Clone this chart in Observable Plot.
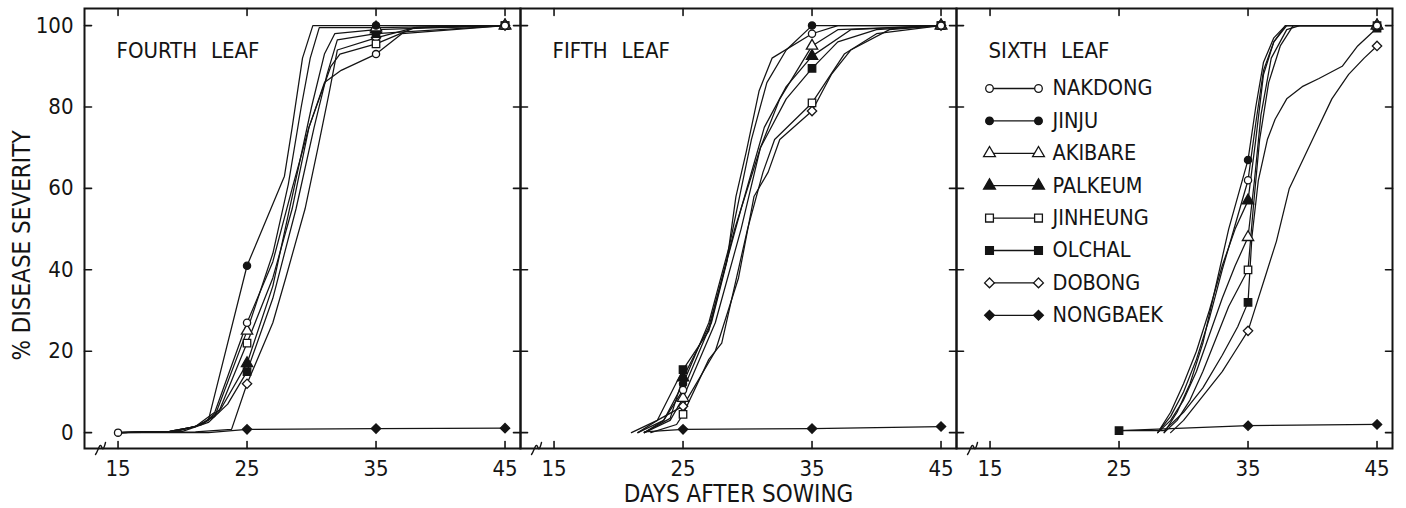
<!DOCTYPE html>
<html>
<head>
<meta charset="utf-8">
<script src="https://cdn.jsdelivr.net/npm/d3@7"></script>
<script src="https://cdn.jsdelivr.net/npm/@observablehq/plot@0.6"></script>
<style>
  html, body { margin: 0; padding: 0; background: #fff; }
  #chart { width: 1406px; height: 508px; }
</style>
</head>
<body>
<div id="chart"></div>
<script>
// ---------- data ----------
const panels = ["FOURTH LEAF", "FIFTH LEAF", "SIXTH LEAF"];
const cultivars = ["NAKDONG", "JINJU", "AKIBARE", "PALKEUM", "JINHEUNG", "OLCHAL", "DOBONG", "NONGBAEK"];
const markerSymbols = ["circle", "circle", "triangle", "triangle", "square", "square", "diamond2", "diamond2"];
const markerFilled = [false, true, false, true, false, true, false, true];
const obsDays = [15, 25, 35, 45];
const xTicks = [15, 25, 35, 45];
const yTicks = [0, 20, 40, 60, 80, 100];

// marked observations (% severity) at days 15, 25, 35, 45; null = no marker
const fourthLeafObs = [
  [0, 27, 93, 100],
  [null, 41, 100, 100],
  [null, 25, 99.5, 100],
  [null, 17, 99, 100],
  [null, 22, 95.5, 100],
  [null, 15, 98, 100],
  [null, 12, 97, 100],
  [null, 0.8, 1.0, 1.1]
];
const fifthLeafObs = [
  [null, 10.5, 98, 100],
  [null, 12, 100, 100],
  [null, 8.5, 95, 100],
  [null, 13.5, 92.5, 100],
  [null, 4.5, 81, 100],
  [null, 15.5, 89.5, 100],
  [null, 6.5, 79, 100],
  [null, 0.8, 1.0, 1.5]
];
const sixthLeafObs = [
  [null, null, 62, 100],
  [null, null, 67, 100],
  [null, null, 48, 100],
  [null, null, 57, 100],
  [null, null, 40, 100],
  [null, 0.5, 32, 99.4],
  [null, null, 25, 95],
  [null, null, 1.7, 2.0]
];

// hand-drawn progress curves: [day, % severity]
const fourthLeafCurves = [
  [[15,0],[19,0.3],[21,1.5],[22.5,5],[25,27],[27,42],[28.5,60],[29.8,75],[31,86],[32.3,89],[35,93],[37,98],[45,100]],
  [[15,0],[19,0.3],[21,1.5],[22,3],[25,41],[27.9,63],[28.5,75],[29.3,92],[30.1,100],[35,100],[45,100]],
  [[15,0],[19,0.3],[21,1.5],[22.5,4],[25,25],[27,44],[28.2,61],[29.2,80],[29.9,92],[30.6,99.5],[35,99.5],[45,100]],
  [[15,0],[19.5,0.3],[21.5,2],[23,6],[25,17],[27,36],[28.5,58],[30,80],[31,93],[31.8,98],[35,99],[45,100]],
  [[15,0],[19.5,0.3],[21.5,2],[22.8,5],[25,22],[27,38],[28.5,55],[29.8,75],[31.5,90],[32.2,93],[35,95.5],[38,99.5],[45,100]],
  [[15,0],[20,0.3],[22,2.5],[23.5,7],[25,15],[27,33],[28.8,55],[30.2,75],[31.2,88],[32,96.5],[35,98],[45,100]],
  [[15,0],[21,0.2],[23.8,0.8],[25,12],[27,27],[28,38],[29.5,55],[30.5,70],[31.4,84],[32,94],[35,97],[38,99.5],[45,100]],
  [[15,0],[22,0],[25,0.8],[35,1.0],[45,1.1]]
];
const fifthLeafCurves = [
  [[21.5,0],[23.5,3],[25,10.5],[27.2,27],[28.4,42],[29.1,58],[29.9,69],[30.9,84],[31.9,92],[35,98],[37,100],[45,100]],
  [[22,0],[23.5,3],[25,12],[27,27],[28.6,46],[30.3,72],[31.5,86],[33,94],[35,100],[45,100]],
  [[22,0],[24,3],[25,8.5],[27.5,27],[29.5,50],[31,70],[32.5,82],[35,95],[37,99],[45,100]],
  [[22,0],[24,3.5],[25,13.5],[27,26],[29.5,55],[31.3,75],[33,85],[35,92.5],[38,99],[45,100]],
  [[22.5,0],[24.5,2],[25,4.5],[27,18],[28,22],[30,50],[31.2,64],[32.1,72],[35,81],[37.5,93],[40,98],[45,100]],
  [[21.5,0],[23,3],[25,15.5],[27,25],[29,50],[31,70],[33,82],[35,89.5],[37,96],[40,99],[45,100]],
  [[21,0],[23,3],[25,6.5],[27.5,20],[29.3,38],[30.5,58],[31.6,64],[32.5,72],[35,79],[36.5,88],[38,94],[41,99],[45,100]],
  [[22,0.2],[25,0.8],[35,1.0],[45,1.5]]
];
const sixthLeafCurves = [
  [[28,0],[29,4],[30,10],[31,18],[32,28],[33,40],[34,51],[35,62],[35.6,76],[36.2,89],[37,96],[37.9,100],[45,100]],
  [[28.5,0],[29.5,5],[30.5,12],[31.5,22],[32.5,36],[33.5,50],[35,67],[35.6,80],[36.2,91],[37,97],[37.9,100],[45,100]],
  [[28,0],[29,3],[30,8],[31,15],[32,24],[33,33],[34,41],[35,48],[35.5,62],[36,78],[36.8,92],[38,99],[39,100],[45,100]],
  [[28,0],[29,5],[30,12],[31,20],[32,30],[33,41],[34,50],[35,57],[35.6,72],[36.2,88],[37,96],[38,100],[45,100]],
  [[28.5,0],[29.5,3],[30.5,8],[31.5,15],[32.5,23],[33.5,31],[35,40],[35.4,55],[35.9,72],[36.6,86],[37.5,95],[38.5,100],[45,100]],
  [[25,0.5],[28.5,0.5],[30,5],[31.5,11],[33,19],[34.2,26],[35,32],[35.3,48],[35.8,62],[36.5,72],[37.1,77],[38,82],[39.2,85],[40.5,87],[42.3,90],[43.5,95],[45,99.4]],
  [[29,0],[30,3],[31,7],[32,11],[33,15],[34,20],[35,25],[35.7,32],[36.3,38],[37.2,47],[38.2,60],[39.1,66],[40,72],[41.5,82],[42.8,88],[44,92],[45,95]],
  [[25,0.5],[35,1.7],[45,2.0]]
];

// ---------- tables ----------
const obsByPanel = [fourthLeafObs, fifthLeafObs, sixthLeafObs];
const curvesByPanel = [fourthLeafCurves, fifthLeafCurves, sixthLeafCurves];

const curveRows = [];
curvesByPanel.forEach((curves, p) => curves.forEach((pts, c) => pts.forEach(([day, value]) =>
  curveRows.push({panel: panels[p], cultivar: cultivars[c], day, value}))));

const obsRows = [];
obsByPanel.forEach((obs, p) => obs.forEach((vals, c) => vals.forEach((v, k) => {
  if (v != null) obsRows.push({panel: panels[p], cultivar: cultivars[c], ci: c, day: obsDays[k], value: v});
})));

// ---------- styling helpers ----------
const ink = "#141414";
const font = "'DejaVu Sans Condensed', 'Liberation Sans Narrow', sans-serif";
const tickShape = {draw(ctx, l) { ctx.moveTo(0, 0); ctx.lineTo(0, -l); }};
const breakShape = {draw(ctx) {
  ctx.moveTo(-5, 6);
  ctx.bezierCurveTo(-2, 2, -1, -6, 1, -2);
  ctx.bezierCurveTo(2, 1, 3, 2, 5, -6);
}};

const marks = [];

// curves
marks.push(Plot.line(curveRows, {
  x: "day", y: "value", z: "cultivar", fx: "panel",
  curve: "linear", stroke: ink, strokeWidth: 1.25, strokeLinejoin: "round"
}));

// markers (NAKDONG drawn last so it sits on top)
for (let c = cultivars.length - 1; c >= 0; c--) {
  marks.push(Plot.dot(obsRows.filter(d => d.ci === c), {
    x: "day", y: "value", fx: "panel",
    symbol: markerSymbols[c],
    r: markerSymbols[c] === "circle" ? 3.6 : 4.2,
    fill: markerFilled[c] ? ink : "white",
    stroke: ink, strokeWidth: 1.3
  }));
}

// frame and inward ticks
marks.push(Plot.frame({stroke: ink, strokeWidth: 2}));
const tickOpts = {length: 7, anchor: "start", shape: tickShape, stroke: ink, strokeWidth: 1.6};
marks.push(Plot.vector(xTicks, {...tickOpts, x: d => d, frameAnchor: "bottom", rotate: 0}));
marks.push(Plot.vector(xTicks, {...tickOpts, x: d => d, frameAnchor: "top", rotate: 180}));
marks.push(Plot.vector(yTicks, {...tickOpts, y: d => d, frameAnchor: "left", rotate: 90}));
marks.push(Plot.vector(yTicks, {...tickOpts, y: d => d, frameAnchor: "right", rotate: 270}));

// axis break squiggle near the origin of each panel
marks.push(Plot.vector([0], {frameAnchor: "bottom-left", dx: 16, length: 1, anchor: "start",
  shape: breakShape, stroke: ink, strokeWidth: 1.4, fill: "none"}));

// tick labels
marks.push(Plot.axisX({ticks: xTicks, tickSize: 0, tickPadding: 12, anchor: "bottom", label: null,
  fontSize: 22, fill: ink}));
marks.push(Plot.axisY({ticks: yTicks, tickSize: 0, tickPadding: 11, anchor: "left", label: null,
  fontSize: 22, fill: ink}));

// panel titles
marks.push(Plot.text(panels, {fx: d => d, text: d => d.replace(" ", "\u2002\u2009"),
  frameAnchor: "top-left", dx: 32, dy: 42, textAnchor: "start", lineAnchor: "middle",
  fontSize: 22, fill: ink}));

// axis titles
marks.push(Plot.text([panels[0]], {fx: d => d, text: () => "% DISEASE SEVERITY",
  frameAnchor: "left", rotate: -90, dx: -62, dy: 17, textAnchor: "middle", lineAnchor: "middle",
  fontSize: 24, fill: ink}));
marks.push(Plot.text([panels[1]], {fx: d => d, text: () => "DAYS AFTER SOWING",
  frameAnchor: "bottom", dy: 46, textAnchor: "middle", lineAnchor: "middle",
  fontSize: 24, fill: ink}));

// legend inside the sixth-leaf panel
cultivars.forEach((name, i) => {
  const dy = 80 + 32.4 * i;
  const base = {fx: d => d, frameAnchor: "top-left", dy};
  marks.push(Plot.vector([panels[2]], {...base, dx: 33, rotate: 90, length: 49, anchor: "start",
    shape: tickShape, stroke: ink, strokeWidth: 1.3}));
  for (const dx of [33, 82]) {
    marks.push(Plot.dot([panels[2]], {...base, dx, symbol: markerSymbols[i],
      r: markerSymbols[i] === "circle" ? 3.8 : 4.4,
      fill: markerFilled[i] ? ink : "white", stroke: ink, strokeWidth: 1.3}));
  }
  marks.push(Plot.text([panels[2]], {...base, dx: 96, text: () => name, textAnchor: "start",
    lineAnchor: "middle", fontSize: 21.5, fill: ink}));
});

const chart = Plot.plot({
  width: 1406,
  height: 508,
  marginLeft: 83,
  marginRight: 13,
  marginTop: 8,
  marginBottom: 60,
  x: {domain: [12.4, 46.2]},
  y: {domain: [-3.9, 104.2]},
  fx: {domain: panels, padding: 0, axis: null},
  style: {fontFamily: font, fontSize: "22px", color: ink, background: "white"},
  marks
});
document.getElementById("chart").appendChild(chart);
</script>
</body>
</html>
